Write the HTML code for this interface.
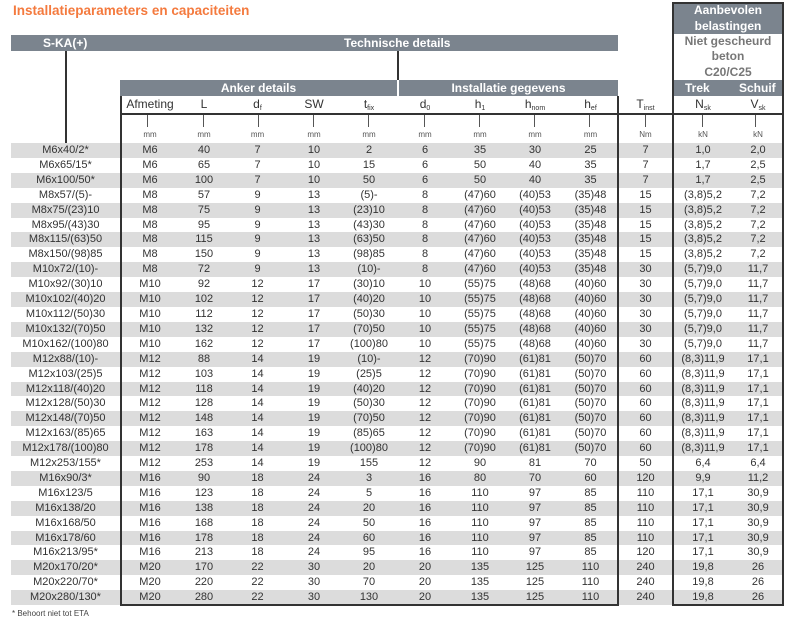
<!DOCTYPE html>
<html><head><meta charset="utf-8"><style>
body{margin:0;width:799px;height:626px;background:#fff;position:relative;font-family:"Liberation Sans",sans-serif;color:#333;overflow:hidden}
.a{position:absolute}
.bar{position:absolute;background:#7b848e;color:#fff;font-weight:bold;font-size:12px;text-align:center;line-height:16px}
.ln{position:absolute;background:#333}
.tk{position:absolute;background:#555;width:1px;top:114px;height:13px}
table{position:absolute;left:11px;top:143px;border-collapse:collapse;table-layout:fixed;font-size:11px}
td{padding:0;height:14.9px;line-height:14.9px;text-align:center;white-space:nowrap}
tr:nth-child(odd) td{background:#dcdcdc}
.h{position:absolute;top:97px;font-size:12px;text-align:center;line-height:15px}
.u{position:absolute;top:130px;font-size:8px;color:#555;text-align:center}
sub{font-size:7px;vertical-align:-2px}
</style></head><body>
<div class="a" style="left:13px;top:3px;color:#f47a3e;font-weight:bold;font-size:13.5px">Installatieparameters en capaciteiten</div>
<div class="bar" style="left:11px;top:35px;width:607px;height:16px"><span class="a" style="left:32px">S-KA(+)</span><span class="a" style="left:333px">Technische details</span></div>
<div class="bar" style="left:120px;top:80px;width:277px;height:16px">Anker details</div>
<div class="bar" style="left:399px;top:80px;width:219px;height:16px">Installatie gegevens</div>
<div class="bar" style="left:673px;top:2px;width:110px;height:32px">Aanbevolen<br>belastingen</div>
<div class="a" style="left:673px;top:34px;width:110px;text-align:center;font-size:12px;font-weight:bold;color:#777;line-height:15.3px">Niet gescheurd<br>beton<br>C20/C25</div>
<div class="bar" style="left:673px;top:80px;width:110px;height:16px"><span class="a" style="left:12px">Trek</span><span class="a" style="left:66px">Schuif</span></div>
<table>
<colgroup><col style="width:109px"><col style="width:60px"><col style="width:48px"><col style="width:59px"><col style="width:54px"><col style="width:56px"><col style="width:56px"><col style="width:54px"><col style="width:56px"><col style="width:55px"><col style="width:55px"><col style="width:60px"><col style="width:50px"></colgroup>
<tr><td>M6x40/2*</td><td>M6</td><td>40</td><td>7</td><td>10</td><td>2</td><td>6</td><td>35</td><td>30</td><td>25</td><td>7</td><td>1,0</td><td>2,0</td></tr>
<tr><td>M6x65/15*</td><td>M6</td><td>65</td><td>7</td><td>10</td><td>15</td><td>6</td><td>50</td><td>40</td><td>35</td><td>7</td><td>1,7</td><td>2,5</td></tr>
<tr><td>M6x100/50*</td><td>M6</td><td>100</td><td>7</td><td>10</td><td>50</td><td>6</td><td>50</td><td>40</td><td>35</td><td>7</td><td>1,7</td><td>2,5</td></tr>
<tr><td>M8x57/(5)-</td><td>M8</td><td>57</td><td>9</td><td>13</td><td>(5)-</td><td>8</td><td>(47)60</td><td>(40)53</td><td>(35)48</td><td>15</td><td>(3,8)5,2</td><td>7,2</td></tr>
<tr><td>M8x75/(23)10</td><td>M8</td><td>75</td><td>9</td><td>13</td><td>(23)10</td><td>8</td><td>(47)60</td><td>(40)53</td><td>(35)48</td><td>15</td><td>(3,8)5,2</td><td>7,2</td></tr>
<tr><td>M8x95/(43)30</td><td>M8</td><td>95</td><td>9</td><td>13</td><td>(43)30</td><td>8</td><td>(47)60</td><td>(40)53</td><td>(35)48</td><td>15</td><td>(3,8)5,2</td><td>7,2</td></tr>
<tr><td>M8x115/(63)50</td><td>M8</td><td>115</td><td>9</td><td>13</td><td>(63)50</td><td>8</td><td>(47)60</td><td>(40)53</td><td>(35)48</td><td>15</td><td>(3,8)5,2</td><td>7,2</td></tr>
<tr><td>M8x150/(98)85</td><td>M8</td><td>150</td><td>9</td><td>13</td><td>(98)85</td><td>8</td><td>(47)60</td><td>(40)53</td><td>(35)48</td><td>15</td><td>(3,8)5,2</td><td>7,2</td></tr>
<tr><td>M10x72/(10)-</td><td>M8</td><td>72</td><td>9</td><td>13</td><td>(10)-</td><td>8</td><td>(47)60</td><td>(40)53</td><td>(35)48</td><td>30</td><td>(5,7)9,0</td><td>11,7</td></tr>
<tr><td>M10x92/(30)10</td><td>M10</td><td>92</td><td>12</td><td>17</td><td>(30)10</td><td>10</td><td>(55)75</td><td>(48)68</td><td>(40)60</td><td>30</td><td>(5,7)9,0</td><td>11,7</td></tr>
<tr><td>M10x102/(40)20</td><td>M10</td><td>102</td><td>12</td><td>17</td><td>(40)20</td><td>10</td><td>(55)75</td><td>(48)68</td><td>(40)60</td><td>30</td><td>(5,7)9,0</td><td>11,7</td></tr>
<tr><td>M10x112/(50)30</td><td>M10</td><td>112</td><td>12</td><td>17</td><td>(50)30</td><td>10</td><td>(55)75</td><td>(48)68</td><td>(40)60</td><td>30</td><td>(5,7)9,0</td><td>11,7</td></tr>
<tr><td>M10x132/(70)50</td><td>M10</td><td>132</td><td>12</td><td>17</td><td>(70)50</td><td>10</td><td>(55)75</td><td>(48)68</td><td>(40)60</td><td>30</td><td>(5,7)9,0</td><td>11,7</td></tr>
<tr><td>M10x162/(100)80</td><td>M10</td><td>162</td><td>12</td><td>17</td><td>(100)80</td><td>10</td><td>(55)75</td><td>(48)68</td><td>(40)60</td><td>30</td><td>(5,7)9,0</td><td>11,7</td></tr>
<tr><td>M12x88/(10)-</td><td>M12</td><td>88</td><td>14</td><td>19</td><td>(10)-</td><td>12</td><td>(70)90</td><td>(61)81</td><td>(50)70</td><td>60</td><td>(8,3)11,9</td><td>17,1</td></tr>
<tr><td>M12x103/(25)5</td><td>M12</td><td>103</td><td>14</td><td>19</td><td>(25)5</td><td>12</td><td>(70)90</td><td>(61)81</td><td>(50)70</td><td>60</td><td>(8,3)11,9</td><td>17,1</td></tr>
<tr><td>M12x118/(40)20</td><td>M12</td><td>118</td><td>14</td><td>19</td><td>(40)20</td><td>12</td><td>(70)90</td><td>(61)81</td><td>(50)70</td><td>60</td><td>(8,3)11,9</td><td>17,1</td></tr>
<tr><td>M12x128/(50)30</td><td>M12</td><td>128</td><td>14</td><td>19</td><td>(50)30</td><td>12</td><td>(70)90</td><td>(61)81</td><td>(50)70</td><td>60</td><td>(8,3)11,9</td><td>17,1</td></tr>
<tr><td>M12x148/(70)50</td><td>M12</td><td>148</td><td>14</td><td>19</td><td>(70)50</td><td>12</td><td>(70)90</td><td>(61)81</td><td>(50)70</td><td>60</td><td>(8,3)11,9</td><td>17,1</td></tr>
<tr><td>M12x163/(85)65</td><td>M12</td><td>163</td><td>14</td><td>19</td><td>(85)65</td><td>12</td><td>(70)90</td><td>(61)81</td><td>(50)70</td><td>60</td><td>(8,3)11,9</td><td>17,1</td></tr>
<tr><td>M12x178/(100)80</td><td>M12</td><td>178</td><td>14</td><td>19</td><td>(100)80</td><td>12</td><td>(70)90</td><td>(61)81</td><td>(50)70</td><td>60</td><td>(8,3)11,9</td><td>17,1</td></tr>
<tr><td>M12x253/155*</td><td>M12</td><td>253</td><td>14</td><td>19</td><td>155</td><td>12</td><td>90</td><td>81</td><td>70</td><td>50</td><td>6,4</td><td>6,4</td></tr>
<tr><td>M16x90/3*</td><td>M16</td><td>90</td><td>18</td><td>24</td><td>3</td><td>16</td><td>80</td><td>70</td><td>60</td><td>120</td><td>9,9</td><td>11,2</td></tr>
<tr><td>M16x123/5</td><td>M16</td><td>123</td><td>18</td><td>24</td><td>5</td><td>16</td><td>110</td><td>97</td><td>85</td><td>110</td><td>17,1</td><td>30,9</td></tr>
<tr><td>M16x138/20</td><td>M16</td><td>138</td><td>18</td><td>24</td><td>20</td><td>16</td><td>110</td><td>97</td><td>85</td><td>110</td><td>17,1</td><td>30,9</td></tr>
<tr><td>M16x168/50</td><td>M16</td><td>168</td><td>18</td><td>24</td><td>50</td><td>16</td><td>110</td><td>97</td><td>85</td><td>110</td><td>17,1</td><td>30,9</td></tr>
<tr><td>M16x178/60</td><td>M16</td><td>178</td><td>18</td><td>24</td><td>60</td><td>16</td><td>110</td><td>97</td><td>85</td><td>110</td><td>17,1</td><td>30,9</td></tr>
<tr><td>M16x213/95*</td><td>M16</td><td>213</td><td>18</td><td>24</td><td>95</td><td>16</td><td>110</td><td>97</td><td>85</td><td>120</td><td>17,1</td><td>30,9</td></tr>
<tr><td>M20x170/20*</td><td>M20</td><td>170</td><td>22</td><td>30</td><td>20</td><td>20</td><td>135</td><td>125</td><td>110</td><td>240</td><td>19,8</td><td>26</td></tr>
<tr><td>M20x220/70*</td><td>M20</td><td>220</td><td>22</td><td>30</td><td>70</td><td>20</td><td>135</td><td>125</td><td>110</td><td>240</td><td>19,8</td><td>26</td></tr>
<tr><td>M20x280/130*</td><td>M20</td><td>280</td><td>22</td><td>30</td><td>130</td><td>20</td><td>135</td><td>125</td><td>110</td><td>240</td><td>19,8</td><td>26</td></tr>
</table>
<!-- column headers -->
<div class="h" style="left:120px;width:60px">Afmeting</div>
<div class="h" style="left:180px;width:48px">L</div>
<div class="h" style="left:228px;width:59px">d<sub>f</sub></div>
<div class="h" style="left:287px;width:54px">SW</div>
<div class="h" style="left:341px;width:56px">t<sub>fix</sub></div>
<div class="h" style="left:397px;width:56px">d<sub>0</sub></div>
<div class="h" style="left:453px;width:54px">h<sub>1</sub></div>
<div class="h" style="left:507px;width:56px">h<sub>nom</sub></div>
<div class="h" style="left:563px;width:55px">h<sub>ef</sub></div>
<div class="h" style="left:618px;width:55px">T<sub>inst</sub></div>
<div class="h" style="left:673px;width:60px">N<sub>sk</sub></div>
<div class="h" style="left:733px;width:50px">V<sub>sk</sub></div>
<!-- units -->
<div class="u" style="left:180px;width:48px">mm</div>
<div class="u" style="left:228px;width:59px">mm</div>
<div class="u" style="left:287px;width:54px">mm</div>
<div class="u" style="left:341px;width:56px">mm</div>
<div class="u" style="left:397px;width:56px">mm</div>
<div class="u" style="left:453px;width:54px">mm</div>
<div class="u" style="left:507px;width:56px">mm</div>
<div class="u" style="left:563px;width:55px">mm</div>
<div class="u" style="left:618px;width:55px">Nm</div>
<div class="u" style="left:673px;width:60px">kN</div>
<div class="u" style="left:733px;width:50px">kN</div>
<div class="u" style="left:120px;width:60px">mm</div>
<!-- ticks -->
<div class="tk" style="left:147px"></div><div class="tk" style="left:203px"></div><div class="tk" style="left:258px"></div><div class="tk" style="left:313px"></div><div class="tk" style="left:368px"></div><div class="tk" style="left:424px"></div><div class="tk" style="left:479px"></div><div class="tk" style="left:534px"></div><div class="tk" style="left:589px"></div><div class="tk" style="left:645px"></div><div class="tk" style="left:702px"></div><div class="tk" style="left:755px"></div>
<!-- lines -->
<div class="ln" style="left:65px;top:51px;width:1.5px;height:92px"></div>
<div class="ln" style="left:397px;top:51px;width:1.5px;height:29px"></div>
<div class="ln" style="left:120px;top:113px;width:663px;height:1.5px"></div>
<div class="ln" style="left:120px;top:96px;width:1.5px;height:509px"></div>
<div class="ln" style="left:617px;top:96px;width:1.5px;height:509px"></div>
<div class="ln" style="left:120px;top:604px;width:499px;height:1.5px"></div>
<div class="ln" style="left:672px;top:2px;width:1.5px;height:603px"></div>
<div class="ln" style="left:782px;top:2px;width:1.5px;height:603px"></div>
<div class="ln" style="left:672px;top:2px;width:112px;height:1.5px"></div>
<div class="ln" style="left:672px;top:604px;width:112px;height:1.5px"></div>
<div class="a" style="left:12px;top:609px;font-size:8px;color:#444">* Behoort niet tot ETA</div>
</body></html>
